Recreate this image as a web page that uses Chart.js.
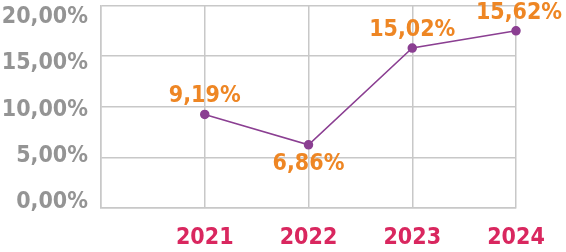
<!DOCTYPE html>
<html>
<head>
<meta charset="utf-8">
<script src="https://cdn.jsdelivr.net/npm/chart.js@4"></script>
<style>
  html, body { margin: 0; padding: 0; background: #fff; }
  #wrap { width: 566px; height: 252px; }
</style>
</head>
<body>
<div id="wrap"><canvas id="chart"></canvas></div>
<script>
// categories (first slot is the empty left edge of the plot)
const years = ['', '2021', '2022', '2023', '2024'];
// plotted positions
const rates = [null, 9.24, 6.24, 15.8, 17.5];
// printed labels
const rateLabels = ['', '9,19%', '6,86%', '15,02%', '15,62%'];
const yTicks = [0, 5, 10, 15, 20];

const FONT = "'DejaVu Sans Condensed', 'DejaVu Sans', sans-serif";
const fmt = v => v.toFixed(2).replace('.', ',') + '%';

// y tick labels: in the original they sit a bit closer together than the grid
const yLabels = {
    id: 'yLabels',
    afterDraw(chart) {
        const ctx = chart.ctx;
        const y = chart.scales.y;
        const base = y.getPixelForValue(0);
        ctx.save();
        ctx.font = 'bold 23px ' + FONT;
        ctx.fillStyle = '#949494';
        ctx.textAlign = 'right';
        ctx.textBaseline = 'middle';
        yTicks.forEach(function (v) {
            const py = base - 6 - (base - y.getPixelForValue(v)) * 0.912;
            ctx.fillText(fmt(v), y.right - 13, py);
        });
        ctx.restore();
    }
};

// orange value labels above/below each point
const valueLabels = {
    id: 'valueLabels',
    afterDatasetsDraw(chart) {
        const ctx = chart.ctx;
        const meta = chart.getDatasetMeta(0);
        ctx.save();
        ctx.font = 'bold 23px ' + FONT;
        ctx.fillStyle = '#ee8624';
        ctx.textAlign = 'center';
        ctx.textBaseline = 'middle';
        meta.data.forEach(function (pt, i) {
            if (rates[i] == null) return;
            const prev = rates[i - 1], next = rates[i + 1];
            const below = prev != null && next != null && rates[i] < prev && rates[i] < next;
            ctx.fillText(rateLabels[i], pt.x + (i === rates.length - 1 ? 3 : 0), below ? pt.y + 19 : pt.y - 18);
        });
        ctx.restore();
    }
};

document.addEventListener("DOMContentLoaded", function () {
    const context = document.getElementById('chart').getContext('2d');
    new Chart(context, {
        type: 'line',
        data: {
            labels: years,
            datasets: [{
                data: rates,
                borderColor: '#8b3f92',
                backgroundColor: '#8b3f92',
                borderWidth: 1.5,
                pointRadius: 4,
                pointHoverRadius: 4,
                tension: 0
            }]
        },
        options: {
            responsive: true,
            maintainAspectRatio: false,
            animation: false,
            layout: { padding: { top: 3, right: 50, left: 0, bottom: 0 } },
            plugins: {
                legend: { display: false },
                tooltip: { enabled: false }
            },
            scales: {
                x: {
                    offset: false,
                    grid: { color: '#c8c8c8', lineWidth: 1.5, drawTicks: false },
                    border: { color: '#c8c8c8', width: 1.5 },
                    ticks: {
                        color: '#d9275f',
                        font: { family: FONT, size: 23, weight: 'bold' },
                        padding: 16,
                        maxRotation: 0,
                        autoSkip: false
                    },
                    afterFit(scale) {
                        scale.height = 44;
                        scale.paddingLeft = 0;
                        scale.paddingRight = 0;
                    }
                },
                y: {
                    min: 0,
                    max: 20,
                    afterBuildTicks(scale) { scale.ticks = yTicks.map(v => ({ value: v })); },
                    grid: { color: '#c8c8c8', lineWidth: 1.5, drawTicks: false },
                    border: { color: '#c8c8c8', width: 1.5 },
                    ticks: { display: false },
                    afterFit(scale) {
                        scale.width = 101;
                        scale.paddingTop = 0;
                        scale.paddingBottom = 0;
                    }
                }
            }
        },
        plugins: [valueLabels, yLabels]
    });
});
</script>
</body>
</html>
